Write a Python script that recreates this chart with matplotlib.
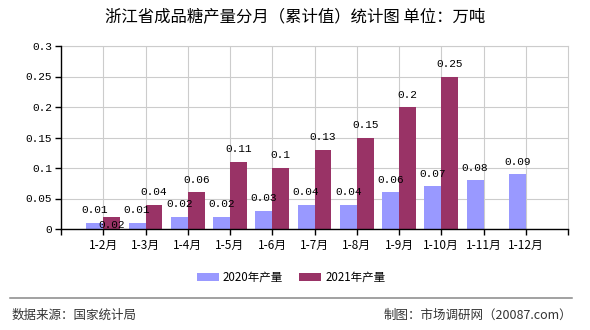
import matplotlib
matplotlib.use("Agg")
import matplotlib.pyplot as plt
from matplotlib.patches import Patch
from matplotlib.lines import Line2D
import numpy as np

plt.rcParams['font.family'] = ['Noto Sans CJK SC', 'DejaVu Sans']

# monthly cumulative output, 10k tonnes
months = ['1-2月', '1-3月', '1-4月', '1-5月', '1-6月', '1-7月', '1-8月',
          '1-9月', '1-10月', '1-11月', '1-12月']
output_2020 = [0.01, 0.01, 0.02, 0.02, 0.03, 0.04, 0.04, 0.06, 0.07, 0.08, 0.09]
output_2021 = [0.02, 0.04, 0.06, 0.11, 0.1, 0.13, 0.15, 0.2, 0.25, None, None]
yticks = [0, 0.05, 0.1, 0.15, 0.2, 0.25, 0.3]
ytick_labels = ['0', '0.05', '0.1', '0.15', '0.2', '0.25', '0.3']
series_names = ['2020年产量', '2021年产量']

c2020 = '#9999ff'
c2021 = '#993366'
grid_c = '#cccccc'

fig = plt.figure(figsize=(5.9, 3.3), dpi=100)
ax = fig.add_axes([61 / 590, 1 - 229 / 330, 507 / 590, 183 / 330])

x = np.arange(len(months))
w = 0.4
ax.bar(x - w / 2, output_2020, width=w, color=c2020, zorder=3)
vals21 = [v if v is not None else 0 for v in output_2021]
ax.bar(x + w / 2, vals21, width=w, color=c2021, zorder=3)

ax.set_xlim(-1, len(months))
ax.set_ylim(0, 0.3)
ax.set_xticks(x)
ax.set_xticklabels(months, fontsize=8.5)
ax.set_xticks([-1, len(months)], minor=True)
ax.set_yticks(yticks)
ax.set_yticklabels(ytick_labels, family='Liberation Mono', fontsize=8)
ax.tick_params(axis='both', which='both', direction='out', length=4.5,
               width=1, color='black', pad=2)
ax.tick_params(axis='x', pad=3)

ax.grid(True, color=grid_c, linewidth=0.8, zorder=0)
for s in ['left', 'bottom']:
    ax.spines[s].set_color('black')
    ax.spines[s].set_linewidth(1)
    ax.spines[s].set_zorder(4)
for s in ['top', 'right']:
    ax.spines[s].set_color(grid_c)
    ax.spines[s].set_linewidth(0.8)

# value labels
label_kw = dict(ha='center', va='center', family='Liberation Mono',
                fontsize=8, textcoords='offset points', zorder=5)
for xi, v in zip(x, output_2020):
    ax.annotate(f'{v:g}', (xi - w / 2, v), xytext=(0, 9), **label_kw)
for i, (xi, v) in enumerate(zip(x, output_2021)):
    if v is None:
        continue
    dy = -5.8 if i == 0 else 9
    ax.annotate(f'{v:g}', (xi + w / 2, v), xytext=(0, dy), **label_kw)

fig.text(295 / 590, 1 - 17 / 330, '浙江省成品糖产量分月（累计值）统计图 单位：万吨',
         ha='center', va='center', fontsize=11.8, color='black')

handles = [Patch(facecolor=c2020), Patch(facecolor=c2021)]
fig.legend(handles, series_names, loc='center',
           bbox_to_anchor=(291 / 590, 1 - 277.5 / 330), ncol=2, frameon=False,
           fontsize=8.3, handlelength=1.9, handleheight=0.8,
           handletextpad=0.35, columnspacing=1.4)

fig.add_artist(Line2D([10 / 590, 572 / 590], [1 - 297.5 / 330] * 2,
                      color='#888888', linewidth=1.1))
fig.text(12 / 590, 1 - 315 / 330, '数据来源：国家统计局', ha='left',
         va='center', fontsize=9, color='#333333')
fig.text(572 / 590, 1 - 315 / 330, '制图：市场调研网（20087.com）', ha='right',
         va='center', fontsize=9, color='#333333')

fig.savefig('out.png', dpi=100)
